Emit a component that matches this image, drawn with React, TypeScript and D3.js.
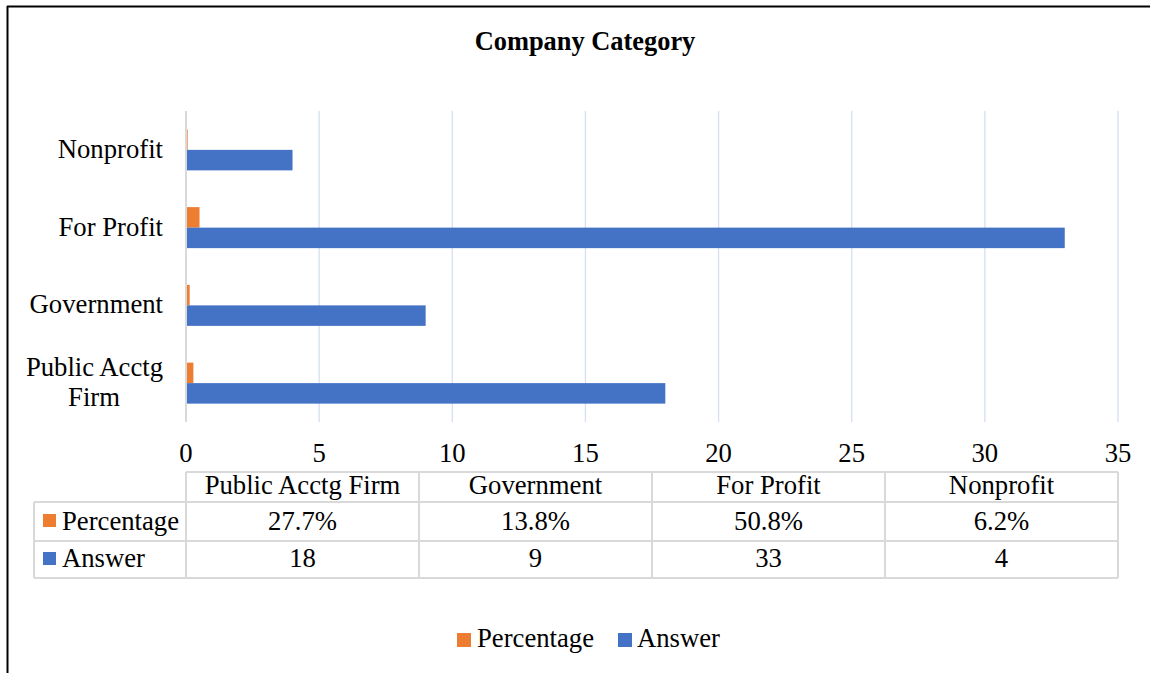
import React from "react";
import * as d3 from "d3";

const categories = ["Public Acctg Firm", "Government", "For Profit", "Nonprofit"];
const axisLabelLines = [["Public Acctg", "Firm"], ["Government"], ["For Profit"], ["Nonprofit"]];
const percentageValues = [0.277, 0.138, 0.508, 0.062];
const percentageLabels = ["27.7%", "13.8%", "50.8%", "6.2%"];
const answerValues = [18, 9, 33, 4];
const xTicks = [0, 5, 10, 15, 20, 25, 30, 35];
const seriesNames = ["Percentage", "Answer"];

const W = 1150;
const H = 673;
const ORANGE = "#ED7D31";
const BLUE = "#4472C4";
const FONT = "'Liberation Serif', 'Times New Roman', serif";
const FS = 26.7;

export default function App() {
  const x = d3.scaleLinear().domain([0, 35]).range([186, 1118]);
  const yOrder = [...categories].reverse();
  const y = d3.scaleBand().domain(yOrder).range([111, 422]).padding(0);
  const barH = 20.5;
  const col = d3.scaleBand().domain(categories).range([186, 1118]).padding(0);

  const rowTops = [472, 502, 541, 578];
  const gridColor = "#D6DFF0";
  const tableColor = "#D9D9D9";

  return (
    <svg
      width={W}
      height={H}
      style={{ position: "absolute", left: 0, top: 0, background: "#fff" }}
      fontFamily={FONT}
    >
      <rect x={0} y={0} width={W} height={H} fill="#fff" />
      {/* frame */}
      <line x1={7.5} x2={7.5} y1={6} y2={H} stroke="#000" strokeWidth={2} />
      <line x1={7} x2={W} y1={6.5} y2={6.5} stroke="#000" strokeWidth={2} />

      {/* title */}
      <text x={585} y={50} textAnchor="middle" fontSize={26.4} fontWeight="bold" fill="#000">
        Company Category
      </text>

      {/* gridlines */}
      {xTicks.filter((t) => t !== 0).map((t) => (
        <line key={t} x1={x(t)} x2={x(t)} y1={111} y2={422} stroke={gridColor} strokeWidth={1.3} />
      ))}

      {/* bars */}
      {categories.map((c, i) => {
        const cy = (y(c) as number) + y.bandwidth() / 2;
        return (
          <g key={c}>
            <rect x={x(0)} y={cy - barH} width={x(percentageValues[i]) - x(0)} height={barH} fill={ORANGE} />
            <rect x={x(0)} y={cy} width={x(answerValues[i]) - x(0)} height={barH} fill={BLUE} />
          </g>
        );
      })}

      {/* zero axis */}
      <line x1={x(0)} x2={x(0)} y1={111} y2={422} stroke="#D9D9D9" strokeWidth={2} />

      {/* category labels */}
      {categories.map((c, i) => {
        const cy = (y(c) as number) + y.bandwidth() / 2;
        const lines = axisLabelLines[i];
        if (lines.length === 1) {
          return (
            <text key={c} x={163} y={cy + 8} textAnchor="end" fontSize={FS} fill="#000">
              {lines[0]}
            </text>
          );
        }
        return (
          <g key={c}>
            <text x={163} y={cy - 7} textAnchor="end" fontSize={FS} fill="#000">{lines[0]}</text>
            <text x={94} y={cy + 23} textAnchor="middle" fontSize={FS} fill="#000">{lines[1]}</text>
          </g>
        );
      })}

      {/* x tick labels */}
      {xTicks.map((t) => (
        <text key={t} x={x(t)} y={462} textAnchor="middle" fontSize={FS} fill="#000">
          {t}
        </text>
      ))}

      {/* data table */}
      <g stroke={tableColor} strokeWidth={2} fill="none">
        <line x1={186} x2={1118} y1={rowTops[0]} y2={rowTops[0]} />
        <line x1={34} x2={1118} y1={rowTops[1]} y2={rowTops[1]} />
        <line x1={34} x2={1118} y1={rowTops[2]} y2={rowTops[2]} />
        <line x1={34} x2={1118} y1={rowTops[3]} y2={rowTops[3]} />
        <line x1={34} x2={34} y1={rowTops[1]} y2={rowTops[3]} />
        {categories.map((c) => (
          <line key={c} x1={col(c)} x2={col(c)} y1={rowTops[0]} y2={rowTops[3]} />
        ))}
        <line x1={1118} x2={1118} y1={rowTops[0]} y2={rowTops[3]} />
      </g>
      {categories.map((c, i) => {
        const cx = (col(c) as number) + col.bandwidth() / 2;
        return (
          <g key={c} fontSize={FS} fill="#000" textAnchor="middle">
            <text x={cx} y={494}>{c}</text>
            <text x={cx} y={530}>{percentageLabels[i]}</text>
            <text x={cx} y={567}>{answerValues[i]}</text>
          </g>
        );
      })}
      {/* table legend keys */}
      <rect x={43} y={514} width={13} height={13} fill={ORANGE} />
      <text x={62} y={530} fontSize={FS} fill="#000">{seriesNames[0]}</text>
      <rect x={43} y={552} width={13} height={13} fill={BLUE} />
      <text x={62} y={567} fontSize={FS} fill="#000">{seriesNames[1]}</text>

      {/* legend */}
      <rect x={457} y={633} width={14} height={14} fill={ORANGE} />
      <text x={477} y={647} fontSize={FS} fill="#000">{seriesNames[0]}</text>
      <rect x={618} y={633} width={14} height={14} fill={BLUE} />
      <text x={637} y={647} fontSize={FS} fill="#000">{seriesNames[1]}</text>
    </svg>
  );
}
